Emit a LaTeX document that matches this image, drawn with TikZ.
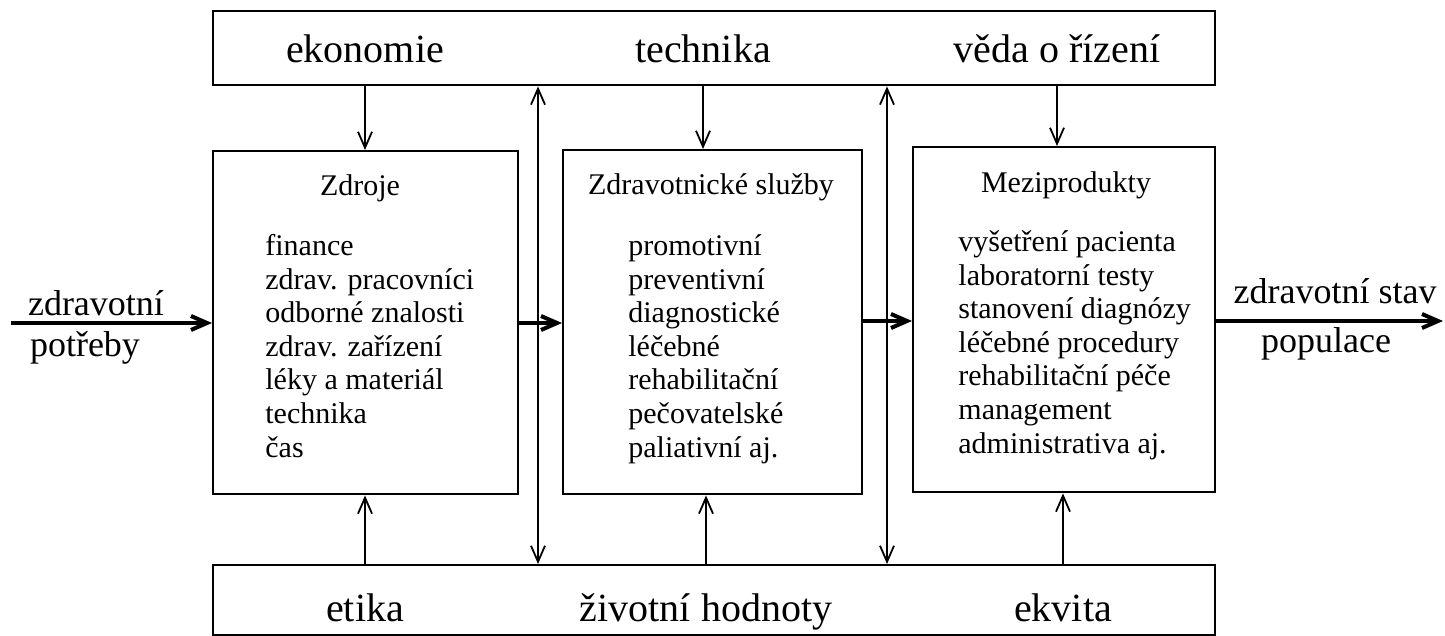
\documentclass[tikz,border=0pt]{standalone}
\usepackage{fontspec}
\setmainfont{Liberation Serif}
\usetikzlibrary{arrows.meta}
\tikzset{
  >={Straight Barb[length=8pt,width=7pt]},
  {panel/.style} ={draw, line width=1.2pt, rectangle, anchor=north west, inner sep=0},
  {factor/.style} ={font=\fontsize{20}{24}\selectfont, anchor=base, inner sep=0},
  {boxtitle/.style} ={font=\fontsize{15}{17}\selectfont, anchor=base, inner sep=0},
  {item/.style} ={font=\fontsize{15}{16.8}\selectfont, anchor=base west, align=left, inner sep=0},
  {side/.style} ={font=\fontsize{18}{21}\selectfont, anchor=base, inner sep=0},
  {link/.style} ={->, line width=0.9pt},
  {flow/.style} ={->, line width=2pt},
}
\begin{document}
\begin{tikzpicture}[x=0.5pt,y=-0.5pt]
\useasboundingbox (0,0) rectangle (1445,636);
% frames
\node[panel, minimum width=501pt, minimum height=37pt] (top) at (212,10) {};
\node[panel, minimum width=152.5pt, minimum height=171.5pt] (zdroje) at (212,150) {};
\node[panel, minimum width=149.5pt, minimum height=172pt] (sluzby) at (562,149) {};
\node[panel, minimum width=151pt, minimum height=172.5pt] (mezi) at (912,146) {};
\node[panel, minimum width=501pt, minimum height=35pt] (bottom) at (212,564) {};
% outer factors
\node[factor] (ekon) at (365,63) {ekonomie};
\node[factor] (tech) at (703,63) {technika};
\node[factor] (veda) at (1057,63) {věda o řízení};
\node[factor] (etika) at (365,621) {etika};
\node[factor] (hodn) at (706,621) {životní hodnoty};
\node[factor] (ekvita) at (1063,621) {ekvita};
% box contents (lists sit on the baseline of their last line)
\node[boxtitle] (zdrojeT) at (360,196) {Zdroje};
\node[item] (zdrojeL) at (265,457) {finance\\zdrav. pracovníci\\odborné znalosti\\zdrav. zařízení\\léky a materiál\\technika\\čas};
\node[boxtitle] (sluzbyT) at (711,195) {Zdravotnické služby};
\node[item] (sluzbyL) at (628,457) {promotivní\\preventivní\\diagnostické\\léčebné\\rehabilitační\\pečovatelské\\paliativní aj.};
\node[boxtitle] (meziT) at (1066,193) {Meziprodukty};
\node[item] (meziL) at (958,453) {vyšetření pacienta\\laboratorní testy\\stanovení diagnózy\\léčebné procedury\\rehabilitační péče\\management\\administrativa aj.};
% input and output
\node[side] (needA) at (96,315) {zdravotní};
\node[side] (needB) at (85,356) {potřeby};
\node[side] (stateA) at (1335,303) {zdravotní stav};
\node[side] (stateB) at (1326,352) {populace};
\coordinate (in) at (11,323);
\coordinate (out) at (1443,321);
\coordinate (gapA) at (538,0);
\coordinate (gapB) at (887,0);
% connectors
\draw[link] (ekon |- top.south) -- (ekon |- zdroje.north);
\draw[link] (tech |- top.south) -- (tech |- sluzby.north);
\draw[link] (veda |- top.south) -- (veda |- mezi.north);
\draw[link] (etika |- bottom.north) -- (etika |- zdroje.south);
\draw[link] (hodn |- bottom.north) -- (hodn |- sluzby.south);
\draw[link] (ekvita |- bottom.north) -- (ekvita |- mezi.south);
\draw[link,<->] (gapA |- top.south) -- (gapA |- bottom.north);
\draw[link,<->] (gapB |- top.south) -- (gapB |- bottom.north);
\draw[flow] (in) -- (in -| zdroje.west);
\draw[flow] (zdroje.east |- in) -- (sluzby.west |- in);
\draw[flow] (sluzby.east |- out) -- (mezi.west |- out);
\draw[flow] (mezi.east |- out) -- (out);
\end{tikzpicture}
\end{document}
